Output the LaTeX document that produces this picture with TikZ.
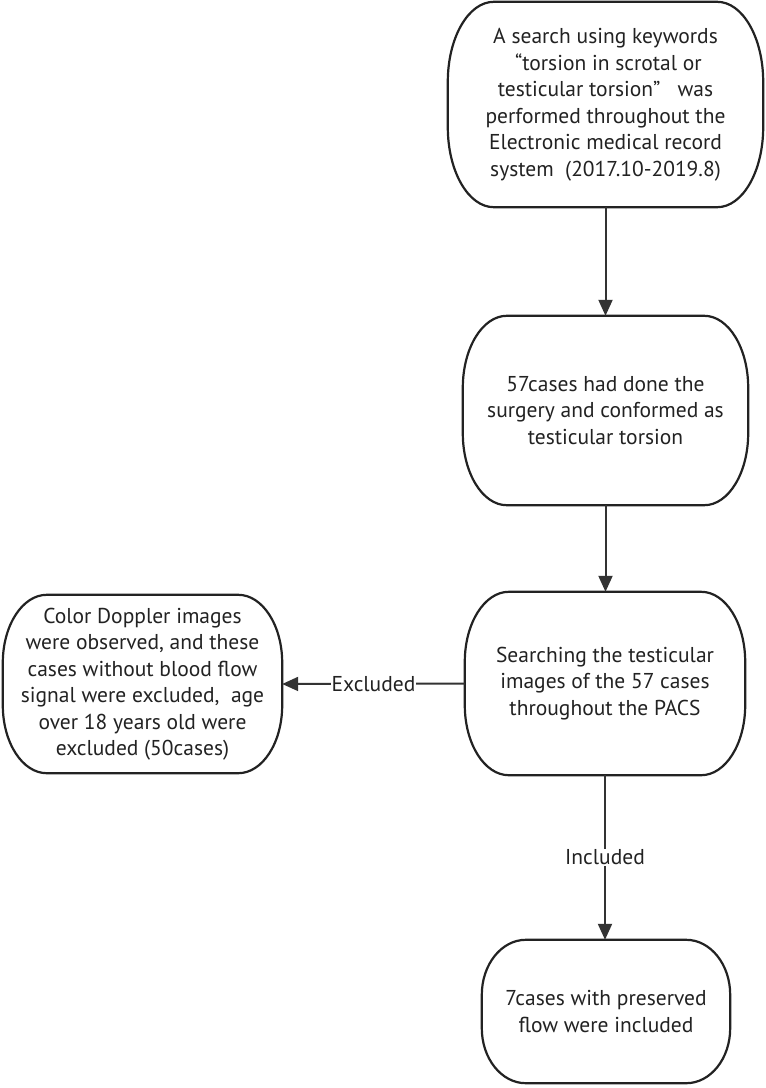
\documentclass[tikz,border=0pt]{standalone}
\usepackage{fontspec}
\setmainfont{PT Sans}
\usetikzlibrary{arrows.meta}
\definecolor{ink}{HTML}{222222}
\definecolor{arr}{HTML}{333333}
\tikzset{
  txt/.style={draw=none, align=center, inner sep=0pt, text=ink,
    font=\fontsize{21.5}{26.5}\selectfont},
  boxline/.style={draw=ink, line width=2.2pt, line join=round},
  conn/.style={draw=arr, line width=2pt, -{Triangle[length=16pt,width=14pt]}},
  lbl/.style={fill=white, inner sep=1pt, text=ink, font=\fontsize{21.5}{22}\selectfont},
}
\begin{document}
\begin{tikzpicture}[x=1pt,y=1pt]
\useasboundingbox (0,0) rectangle (766,-1088);
\fill[white] (0,0) rectangle (766,-1088);

\node[txt, minimum width=315pt, minimum height=205pt] (a) at (605.5,-104.5)
  {A search using keywords\\ \ “torsion in scrotal or\\ testicular torsion”\ \ \ was\\ performed throughout the\\ Electronic medical record\\ system\ \ (2017.10-2019.8)};
\node[txt, minimum width=285pt, minimum height=189pt] (b) at (605.5,-410.5)
  {57cases had done the\\ surgery and conformed as\\ testicular torsion};
\node[txt, minimum width=280pt, minimum height=183pt] (c) at (605,-683.5)
  {Searching the testicular\\ images of the 57 cases\\ throughout the PACS};
\node[txt, minimum width=279pt, minimum height=178pt] (d) at (142.5,-684)
  {Color Doppler images\\ were observed, and these\\ cases without blood flow\\ signal were excluded,\ \ age\\ over 18 years old were\\ excluded (50cases)};
\node[txt, minimum width=248pt, minimum height=143pt] (e) at (606,-1011.5)
  {7cases with preserved\\ flow were included};

\foreach \nm/\rx/\ry in {a/46/80, b/44/72, c/44/70, d/44/68, e/44/55}{
  \draw[boxline]
    ([xshift=\rx pt]\nm.north west) -- ([xshift=-\rx pt]\nm.north east)
    arc[start angle=90, end angle=0, x radius=\rx pt, y radius=\ry pt]
    -- ([yshift=\ry pt]\nm.south east)
    arc[start angle=0, end angle=-90, x radius=\rx pt, y radius=\ry pt]
    -- ([xshift=\rx pt]\nm.south west)
    arc[start angle=270, end angle=180, x radius=\rx pt, y radius=\ry pt]
    -- ([yshift=-\ry pt]\nm.north west)
    arc[start angle=180, end angle=90, x radius=\rx pt, y radius=\ry pt]
    -- cycle;
}

\draw[conn] (a.south) -- (a.south |- b.north);
\draw[conn] (b.south) -- (b.south |- c.north);
\draw[conn] (c.west) -- node[lbl] (lx) {Excluded} (d.east);
\draw[conn] (c.south) -- node[lbl] (li) {Included} (c.south |- e.north);
\end{tikzpicture}
\end{document}
